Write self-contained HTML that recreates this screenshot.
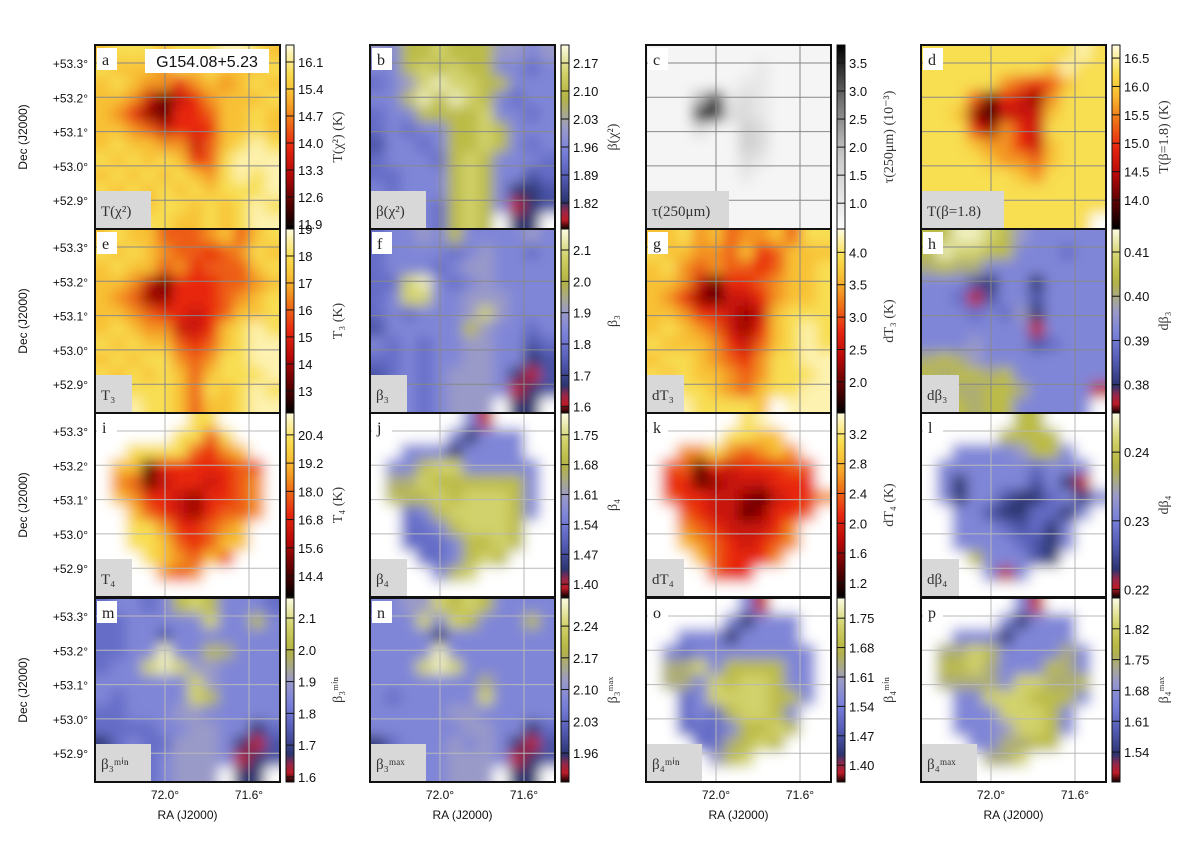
<!DOCTYPE html>
<html><head><meta charset="utf-8">
<style>
html,body{margin:0;padding:0;background:#fff;}
svg{display:block;font-family:"Liberation Sans",sans-serif;}
.serif{font-family:"Liberation Serif",serif;}
</style></head>
<body>
<svg id="fig" width="1200" height="842" viewBox="0 0 1200 842" xmlns="http://www.w3.org/2000/svg">
<defs>
<filter id="blur" x="-5%" y="-5%" width="110%" height="110%"><feGaussianBlur stdDeviation="6.5"/></filter>
</defs>
</svg>
<script>
// ---- panel data: coarse 12x12 maps, digit = level 0..9 within colour range, '.' = no data ----
const gridA=["788878889987","877768787778","787664676787","776313467778","764214457787","776534447787","787766357898","878787458999","787878768989","878787878889","778788787898","799887787899"];
const gridB=["547787775545","447878774434","345898877444","447979874344","344777784434","343447787444","244347787434","344437874443","334447874423","434447874112","344437874012","34443787.11."];
const gridC=["000000000000","000000010000","000000110000","000481210000","000892210000","000200320000","000000320000","000000210000","000000100000","000000000000","000000000000","000000000000"];
const gridD=["888888888898","888888887988","888886545788","888514326888","887203337888","888426438888","888766437888","888876657888","888888768888","888888888888","888888888888","88888888888."];
const gridE=["787755567578","878765545687","787756455578","776314445567","765224445678","776544345778","787663347898","878775457899","787886568899","878787578889","778887587898","789887577899"];
const gridF=["344547444454","344443454434","344434554444","338943454444","348844555444","343444585444","244444754434","434344554423","334344554412","234345554102","244345554012","24434555.11."];
const gridG=["778675667588","877665745777","786565545778","776314456778","764213346778","776443237888","787653247898","877764357898","788765468899","878776568889","898876578899","99988887.999"];
const gridH=["779987544444","798877444344","676644444444","444214414444","443024424444","444343514444","444444404444","444544423444","676544444444","767767444444","676677644440","67767744444."];
const gridI=["......88....",".....8858...","..88885467..",".7714444455.",".6513443456.",".7644324456.","..754324556.","..88644567..","..88754577..","...876575...","....656.....","............"];
const gridJ=["......40....",".....41444..","..44414444..",".4478844444.",".6687777774.",".7778788874.","..347888874.","..33478887..","..33347787..","...334787...","....478.....","............"];
const gridK=["......89....",".....8877...","..66865676..",".5514344455.",".4412333444.",".54433213446","..543312445.","..65433346..","..76543456..","...754446...","....544.....","............"];
const gridL=["......77....",".....7777...","..44445774..",".4444443444.",".4144442410.",".41442113414","..442113314.","..44432314..","..44443214..","...744421...","....404.....","............"];
const gridM=["344347874443","334444484474","334424444444","334494476444","344898554444","444444854444","434444874444","334445544444","333344554413","134335554102","234345554012","23434555.11."];
const gridN=["445587874444","444848744474","444414444444","444494444444","444898444444","444444464444","434444484444","444445544444","444444554413","134445454102","244445554012","24444555.11."];
const gridO=["......40....",".....41444..","..44414444..",".4344444444.",".6684777744.",".6648788744.","..348888774.","..34378874..","..33347787..","...336787...","....578.....","............"];
const gridP=["......40....",".....41444..","..44414444..",".6687444464.",".7786444764.",".6666488667.","..448887774.","..44488874..","..44458874..","...446677...","....668.....","............"];
// colour ranges [vmin, vmax]
const rangeA=[11.77,16.54], rangeB=[1.755,2.215], rangeC=[0.54,3.82], rangeD=[13.49,16.73];
const rangeE=[12.18,19.0], rangeF=[1.58,2.167], rangeG=[1.52,4.36], rangeH=[0.3736,0.4152];
const rangeI=[13.51,21.33], rangeJ=[1.37,1.801], rangeK=[1.01,3.48], rangeL=[0.2189,0.2457];
const rangeM=[1.584,2.163], rangeN=[1.896,2.302], rangeO=[1.36,1.798], rangeP=[1.472,1.89];
// colour-bar tick labels
const ticksA=["16.1","15.4","14.7","14.0","13.3","12.6","11.9"];
const ticksB=["2.17","2.10","2.03","1.96","1.89","1.82"];
const ticksC=["3.5","3.0","2.5","2.0","1.5","1.0"];
const ticksD=["16.5","16.0","15.5","15.0","14.5","14.0"];
const ticksE=["19","18","17","16","15","14","13"];
const ticksF=["2.1","2.0","1.9","1.8","1.7","1.6"];
const ticksG=["4.0","3.5","3.0","2.5","2.0"];
const ticksH=["0.41","0.40","0.39","0.38"];
const ticksI=["20.4","19.2","18.0","16.8","15.6","14.4"];
const ticksJ=["1.75","1.68","1.61","1.54","1.47","1.40"];
const ticksK=["3.2","2.8","2.4","2.0","1.6","1.2"];
const ticksL=["0.24","0.23","0.22"];
const ticksM=["2.1","2.0","1.9","1.8","1.7","1.6"];
const ticksN=["2.24","2.17","2.10","2.03","1.96"];
const ticksO=["1.75","1.68","1.61","1.54","1.47","1.40"];
const ticksP=["1.82","1.75","1.68","1.61","1.54"];
const decTicks=["+53.3°","+53.2°","+53.1°","+53.0°","+52.9°"];
const decVals=[53.3,53.2,53.1,53.0,52.9];
const raTicks=["72.0°","71.6°"];
const raVals=[72.0,71.6];

const NS="http://www.w3.org/2000/svg";
const svg=document.getElementById('fig');
function mk(tag,attrs,parent){const e=document.createElementNS(NS,tag);for(const k in attrs)e.setAttribute(k,attrs[k]);(parent||svg).appendChild(e);return e;}
function hex(h){return [parseInt(h.substr(1,2),16),parseInt(h.substr(3,2),16),parseInt(h.substr(5,2),16)];}
const HOT=[[0,"#000000"],[0.12,"#4a0000"],[0.3,"#b80808"],[0.45,"#e82810"],[0.6,"#f07818"],[0.72,"#f8b830"],[0.84,"#f8dc48"],[1,"#fffce0"]];
const BETA=[[0,"#100000"],[0.06,"#e02030"],[0.15,"#2c3470"],[0.27,"#5058b0"],[0.42,"#7880dc"],[0.55,"#9a9ac8"],[0.62,"#a8a890"],[0.72,"#b4b43c"],[0.86,"#d4d470"],[1,"#fcfce4"]];
const GRAY=[[0,"#fbfbfb"],[0.4,"#c8c8c8"],[0.7,"#707070"],[1,"#000000"]];
function cmap(stops,t){t=Math.max(0,Math.min(1,t));for(let i=1;i<stops.length;i++){if(t<=stops[i][0]){const a=stops[i-1],b=stops[i];const f=(t-a[0])/(b[0]-a[0]);const A=hex(a[1]),B=hex(b[1]);return "rgb("+A.map((v,j)=>Math.round(v+(B[j]-v)*f)).join(",")+")";}}return stops[stops.length-1][1];}

const colX=[95,370,646,921], rowY=[45,229,413,598], PW=185, PH=184;
function xRA(px,ra){return px+70+(72.0-ra)/(0.4)*84;}
function yDec(py,dec){return py+18+(53.3-dec)/0.1*34.3;}

const panels=[
 {id:"a",grid:gridA,range:rangeA,ticks:ticksA,cm:HOT,lab:"T(χ²)",cb:"T(χ²) (K)"},
 {id:"b",grid:gridB,range:rangeB,ticks:ticksB,cm:BETA,lab:"β(χ²)",cb:"β(χ²)"},
 {id:"c",grid:gridC,range:rangeC,ticks:ticksC,cm:GRAY,lab:"τ(250μm)",cb:"τ(250μm) (10⁻³)"},
 {id:"d",grid:gridD,range:rangeD,ticks:ticksD,cm:HOT,lab:"T(β=1.8)",cb:"T(β=1.8) (K)"},
 {id:"e",grid:gridE,range:rangeE,ticks:ticksE,cm:HOT,lab:"T₃",cb:"T₃ (K)"},
 {id:"f",grid:gridF,range:rangeF,ticks:ticksF,cm:BETA,lab:"β₃",cb:"β₃"},
 {id:"g",grid:gridG,range:rangeG,ticks:ticksG,cm:HOT,lab:"dT₃",cb:"dT₃ (K)"},
 {id:"h",grid:gridH,range:rangeH,ticks:ticksH,cm:BETA,lab:"dβ₃",cb:"dβ₃"},
 {id:"i",grid:gridI,range:rangeI,ticks:ticksI,cm:HOT,lab:"T₄",cb:"T₄ (K)"},
 {id:"j",grid:gridJ,range:rangeJ,ticks:ticksJ,cm:BETA,lab:"β₄",cb:"β₄"},
 {id:"k",grid:gridK,range:rangeK,ticks:ticksK,cm:HOT,lab:"dT₄",cb:"dT₄ (K)"},
 {id:"l",grid:gridL,range:rangeL,ticks:ticksL,cm:BETA,lab:"dβ₄",cb:"dβ₄"},
 {id:"m",grid:gridM,range:rangeM,ticks:ticksM,cm:BETA,lab:"β₃ᵐⁱⁿ",cb:"β₃ᵐⁱⁿ"},
 {id:"n",grid:gridN,range:rangeN,ticks:ticksN,cm:BETA,lab:"β₃ᵐᵃˣ",cb:"β₃ᵐᵃˣ"},
 {id:"o",grid:gridO,range:rangeO,ticks:ticksO,cm:BETA,lab:"β₄ᵐⁱⁿ",cb:"β₄ᵐⁱⁿ"},
 {id:"p",grid:gridP,range:rangeP,ticks:ticksP,cm:BETA,lab:"β₄ᵐᵃˣ",cb:"β₄ᵐᵃˣ"}
];

panels.forEach((P,idx)=>{
  const ci=idx%4, ri=Math.floor(idx/4);
  const px=colX[ci], py=rowY[ri];
  const [vmin,vmax]=P.range;
  const cp=mk('clipPath',{id:'clip'+P.id},svg.querySelector('defs'));
  mk('rect',{x:px,y:py,width:PW,height:PH},cp);
  const pg=mk('g',{'clip-path':'url(#clip'+P.id+')'});
  
  
  mk('rect',{x:px,y:py,width:PW,height:PH,fill:'#fff'},pg);
  const bg=mk('g',{filter:'url(#blur)'},pg);
  const n=P.grid.length, m=P.grid[0].length;
  const cw=PW/m, chh=PH/n;
  for(let r=0;r<n;r++){for(let c=0;c<m;c++){
    const ch=P.grid[r][c];
    let fill='#ffffff';
    if(ch!=='.'){const v=vmin+(parseInt(ch)+0.5)/10*(vmax-vmin);fill=cmap(P.cm,(v-vmin)/(vmax-vmin));}
    let x=px+c*cw, y=py+r*chh, w=cw+0.6, h=chh+0.6;
    if(c===0){x-=16;w+=16;} if(c===m-1){w+=16;}
    if(r===0){y-=16;h+=16;} if(r===n-1){h+=16;}
    const cell=mk('rect',{x:x.toFixed(1),y:y.toFixed(1),width:w.toFixed(1),height:h.toFixed(1),fill:fill},bg);
    
    
  }}
  const gridCol = ri>=2 ? '#b8b8b8' : '#888';
  decVals.forEach(d=>{const y=yDec(py,d);const l=mk('line',{x1:px,x2:px+PW,y1:y,y2:y,stroke:gridCol,'stroke-width':1},pg);});
  raVals.forEach(a=>{const x=xRA(px,a);const l=mk('line',{x1:x,x2:x,y1:py,y2:py+PH,stroke:gridCol,'stroke-width':1},pg);});
  const lb=mk('rect',{x:px+2,y:py+3,width:20,height:22,fill:'#fff'},pg);
  
  const lt=mk('text',{x:px+7,y:py+20,'font-size':16,class:'serif',fill:'#222'},pg);
  lt.textContent=P.id;
  
  const bw=Math.max(36,P.lab.length*9+10);
  const bb=mk('rect',{x:px+1,y:py+PH-38,width:bw,height:37,fill:'#d8d8d8'},pg);
  
  const bt=mk('text',{x:px+6,y:py+PH-13,'font-size':15,class:'serif',fill:'#333'},pg);
  bt.textContent=P.lab;
  
  if(P.id==='a'){
    const tb=mk('rect',{x:px+50,y:py+4,width:124,height:24,fill:'#fff'},pg);
    
    const tt=mk('text',{x:px+112,y:py+22,'font-size':16,'text-anchor':'middle',fill:'#111'},pg);
    tt.textContent='G154.08+5.23';
    
  }
  const fr=mk('rect',{x:px,y:py,width:PW,height:PH,fill:'none',stroke:'#111','stroke-width':2});
  
  const cbx=px+191, cbw=8;
  const gid='grad'+P.id;
  const lg=mk('linearGradient',{id:gid,x1:0,y1:1,x2:0,y2:0},svg.querySelector('defs'));
  for(let k=0;k<=20;k++){mk('stop',{offset:(k/20),'stop-color':cmap(P.cm,k/20)},lg);}
  const cb=mk('rect',{x:cbx,y:py,width:cbw,height:PH,fill:'url(#'+gid+')',stroke:'#111','stroke-width':1});
  
  P.ticks.forEach(t=>{
    const v=parseFloat(t);
    const y=py+PH-(v-vmin)/(vmax-vmin)*PH;
    const tk=mk('line',{x1:cbx,x2:cbx+cbw,y1:y,y2:y,stroke:'#111','stroke-width':1});
    
    const tl=mk('text',{x:cbx+12,y:y+5,'font-size':13,fill:'#111'});
    tl.textContent=t;
    
  });
  const cx=px+247, cy=py+PH/2;
  const ct=mk('text',{x:cx,y:cy,'font-size':14,class:'serif','text-anchor':'middle',fill:'#333',transform:'rotate(-90 '+cx+' '+cy+')'});
  ct.textContent=P.cb;
  
  if(ci===0){
    decVals.forEach((d,k)=>{const y=yDec(py,d);const t=mk('text',{x:88,y:y+5,'font-size':12,'text-anchor':'end',fill:'#111'});t.textContent=decTicks[k];});
    const yx=27, yy=py+PH/2;
    const yt=mk('text',{x:yx,y:yy,'font-size':12,'text-anchor':'middle',fill:'#111',transform:'rotate(-90 '+yx+' '+yy+')'});
    yt.textContent='Dec (J2000)';
  }
  if(ri===3){
    raVals.forEach((a,k)=>{const x=xRA(px,a);const t=mk('text',{x:x,y:799,'font-size':12,'text-anchor':'middle',fill:'#111'});t.textContent=raTicks[k];});
    const xt=mk('text',{x:px+PW/2,y:819,'font-size':12,'text-anchor':'middle',fill:'#111'});
    xt.textContent='RA (J2000)';
  }
});
</script>
</body></html>
